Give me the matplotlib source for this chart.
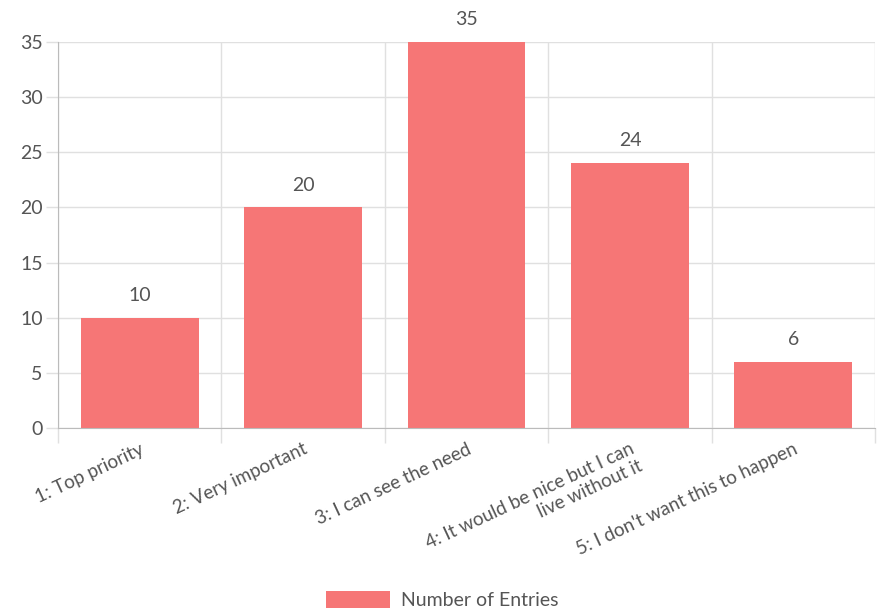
import matplotlib.pyplot as plt
import numpy as np

plt.rcParams['font.family'] = ['Lato', 'DejaVu Sans']

categories = ['1: Top priority', '2: Very important', '3: I can see the need',
              '4: It would be nice but I can\nlive without it', '5: I don\'t want this to happen']
entries = [10, 20, 35, 24, 6]
series_name = 'Number of Entries'

bar_color = '#F67676'
text_color = '#555555'
grid_color = '#E0E0E0'
axis_color = '#BBBBBB'

fig = plt.figure(figsize=(8.77, 6.13), dpi=100)
ax = fig.add_axes([58 / 877, 1 - 428 / 613, (875 - 58) / 877, (428 - 42) / 613])

x = np.arange(len(categories))
bars = ax.bar(x, entries, width=0.72, color=bar_color, label=series_name, zorder=2)

# value labels above bars
for xi, v in zip(x, entries):
    ax.annotate(str(v), (xi, v), textcoords='offset points', xytext=(0, 10),
                ha='center', va='bottom', fontsize=14, color=text_color, clip_on=False)

ax.set_xlim(-0.5, len(categories) - 0.5)
ax.set_ylim(0, 35)
ax.set_yticks(np.arange(0, 36, 5))

# category separators as grid/ticks
ax.set_xticks(np.arange(-0.5, len(categories), 1.0), minor=True)
ax.set_xticks(x)
ax.set_xticklabels(categories, rotation=25, ha='right', va='top',
                   rotation_mode='anchor', multialignment='right', linespacing=1.15)
ax.tick_params(axis='x', which='major', length=0, pad=9, labelsize=13.5, labelcolor=text_color)
ax.tick_params(axis='x', which='minor', length=11, color=grid_color, width=1)
ax.tick_params(axis='y', length=9, color=grid_color, width=1, labelsize=14,
               labelcolor=text_color, pad=2)

ax.grid(axis='y', color=grid_color, linewidth=1, zorder=0)
ax.grid(axis='x', which='minor', color=grid_color, linewidth=1, zorder=0)
ax.set_axisbelow(True)

for side in ['top', 'right']:
    ax.spines[side].set_visible(False)
ax.spines['left'].set_color(axis_color)
ax.spines['bottom'].set_color(axis_color)

fig.legend(handles=[bars], labels=[series_name], loc='center',
           bbox_to_anchor=(0.5 + 4 / 877, 1 - 600 / 613), frameon=False, fontsize=14,
           handlelength=3.3, handleheight=0.95, handletextpad=0.55, labelcolor=text_color)

fig.savefig('out.png', dpi=100, facecolor='white')
